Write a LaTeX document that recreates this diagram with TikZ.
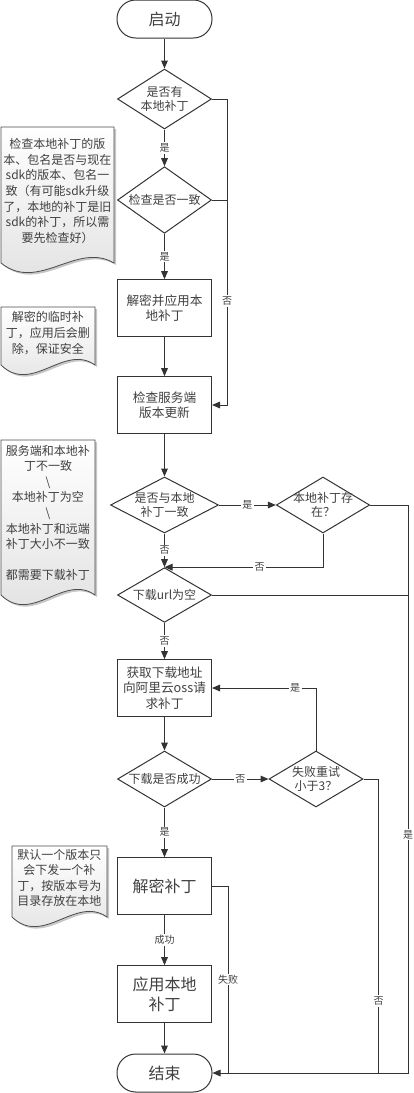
\documentclass[tikz,border=0pt]{standalone}
\usepackage{fontspec}
\setmainfont{Noto Sans CJK SC}
\usetikzlibrary{arrows.meta,positioning,shapes.geometric}

\tikzset{
  every node/.style={text=black!75},
  term/.style={draw=black!80, line width=0.75pt, rounded corners=14pt, minimum width=71.25pt, minimum height=28.5pt, inner sep=0pt, font=\fontsize{12}{15}\selectfont},
  proc/.style={draw=black!80, line width=0.75pt, minimum width=70.5pt, minimum height=42.5pt, inner sep=1pt, align=center, font=\fontsize{9.5}{11.5}\selectfont},
  bigproc/.style={proc, font=\fontsize{12}{15}\selectfont},
  dec/.style={diamond, draw=black!80, line width=0.75pt, minimum width=70.5pt, minimum height=42pt, inner sep=0pt},
  dectext/.style={align=center, inner sep=0pt, font=\fontsize{9}{10.8}\selectfont},
  lab/.style={fill=white, inner sep=1pt, font=\fontsize{7.5}{9}\selectfont},
  arr/.style={draw=black!80, line width=0.75pt, -{Triangle[length=6pt,width=5pt]}},
  ln/.style={draw=black!80, line width=0.75pt},
  notebox/.style={draw=black!70, line width=0.6pt, top color=white, bottom color=black!12},
  notetext/.style={align=center, inner sep=0pt, font=\fontsize{9}{11.7}\selectfont}
}

\begin{document}
\begin{tikzpicture}[x=0.75pt, y=-0.75pt]
\useasboundingbox (0,0) rectangle (414,1093);

% notes on the left
\foreach \L/\T/\R/\B in {1/127/114/263, 1/307/95/365, 1/440/95/595, 12/846/107/917} {
    \fill[black!22, xshift=1.5pt, yshift=-1.5pt] (\L,\T) -- (\R,\T) -- (\R,\B) .. controls ({\R-0.33*(\R-\L)},{\B-22}) and ({\L+0.33*(\R-\L)},{\B+30}) .. (\L,\B) -- cycle;
    \draw[notebox] (\L,\T) -- (\R,\T) -- (\R,\B) .. controls ({\R-0.33*(\R-\L)},{\B-22}) and ({\L+0.33*(\R-\L)},{\B+30}) .. (\L,\B) -- cycle;
}
\node[notetext] (n1) at (57.5,191) {检查本地补丁的版\\本、包名是否与现在\\sdk的版本、包名一\\致（有可能sdk升级\\了，本地的补丁是旧\\sdk的补丁，所以需\\要先检查好）};
\node[notetext] (n2) at (48,333) {解密的临时补\\丁，应用后会删\\除，保证安全};
\node[notetext] (n3) at (48,513) {服务端和本地补\\丁不一致\\\textbackslash\\本地补丁为空\\\textbackslash\\本地补丁和远端\\补丁大小不一致\\[11.7pt]都需要下载补丁};
\node[notetext] (n4) at (59.5,878) {默认一个版本只\\会下发一个补\\丁，按版本号为\\目录存放在本地};

% main column
\node[term] (start) at (164.5,19) {启动};
\node[dec, minimum height=45pt] (d1) at (164.5,99) {};
\node[dectext] (d1t) at (d1) {是否有\\本地补丁};
\node[dec, minimum height=50pt] (d2) at (164.5,200) {};
\node[dectext] (d2t) at (d2) {检查是否一致};
\node[proc] (app1) at (164.5,308) {解密并应用本\\地补丁};
\node[proc] (chk) at (164.5,405) {检查服务端\\版本更新};
\node[dec, minimum width=81pt] (d3) at (164.5,505) {};
\node[dectext] (d3t) at (d3) {是否与本地\\补丁一致};
\node[dec, minimum width=70pt] (d4) at (323,505) {};
\node[dectext] (d4t) at (d4) {本地补丁存\\在？};
\node[dec, minimum height=41pt] (d5) at (164.5,595) {};
\node[dectext] (d5t) at (d5) {下载url为空};
\node[proc] (get) at (164.5,688) {获取下载地址\\向阿里云oss请\\求补丁};
\node[dec] (d6) at (164.5,779) {};
\node[dectext] (d6t) at (d6) {下载是否成功};
\node[dec] (d7) at (316,779) {};
\node[dectext] (d7t) at (d7) {失败重试\\小于3？};
\node[bigproc] (dec2) at (164.5,886) {解密补丁};
\node[bigproc] (app2) at (164.5,994) {应用本地\\补丁};
\node[term] (end) at (164.5,1073) {结束};

% connectors
\draw[arr] (start) -- (d1);
\draw[arr] (d1) -- node[lab] {是} (d2);
\coordinate (r1) at (227,99);
\draw[arr] (d1.east) -- (r1) |- node[lab, pos=0.33] {否} (chk.east);
\draw[ln] (d2.east) -- (d2.east -| r1);
\draw[arr] (d2) -- node[lab] {是} (app1);
\draw[arr] (app1) -- (chk);
\draw[arr] (chk) -- (d3);
\draw[arr] (d3) -- node[lab] {是} (d4);
\draw[arr] (d3) -- node[lab] {否} (d5);
\draw[arr] (d4.south) |- node[lab, pos=0.7] {否} (d5.north);
\coordinate (r2) at (408,505);
\draw[arr] (d4.east) -- (r2) |- node[lab, pos=0.29] {是} (end.east);
\draw[ln] (d5.east) -- (d5.east -| r2);
\draw[arr] (d5) -- node[lab] {否} (get);
\draw[arr] (get) -- (d6);
\draw[arr] (d6) -- node[lab] {否} (d7);
\draw[arr] (d7.north) |- node[lab, pos=0.6] {是} (get.east);
\draw[ln] (d7.east) -- ++(15,0) coordinate (r3) -- node[lab, pos=0.755] {否} (r3 |- end.east);
\draw[arr] (d6) -- node[lab] {是} (dec2);
\draw[arr] (dec2) -- node[lab] {成功} (app2);
\draw[ln] (dec2.east) -- ++(16,0) coordinate (r4) -- node[lab] {失败} (r4 |- end.east);
\draw[arr] (app2) -- (end);
\end{tikzpicture}
\end{document}
